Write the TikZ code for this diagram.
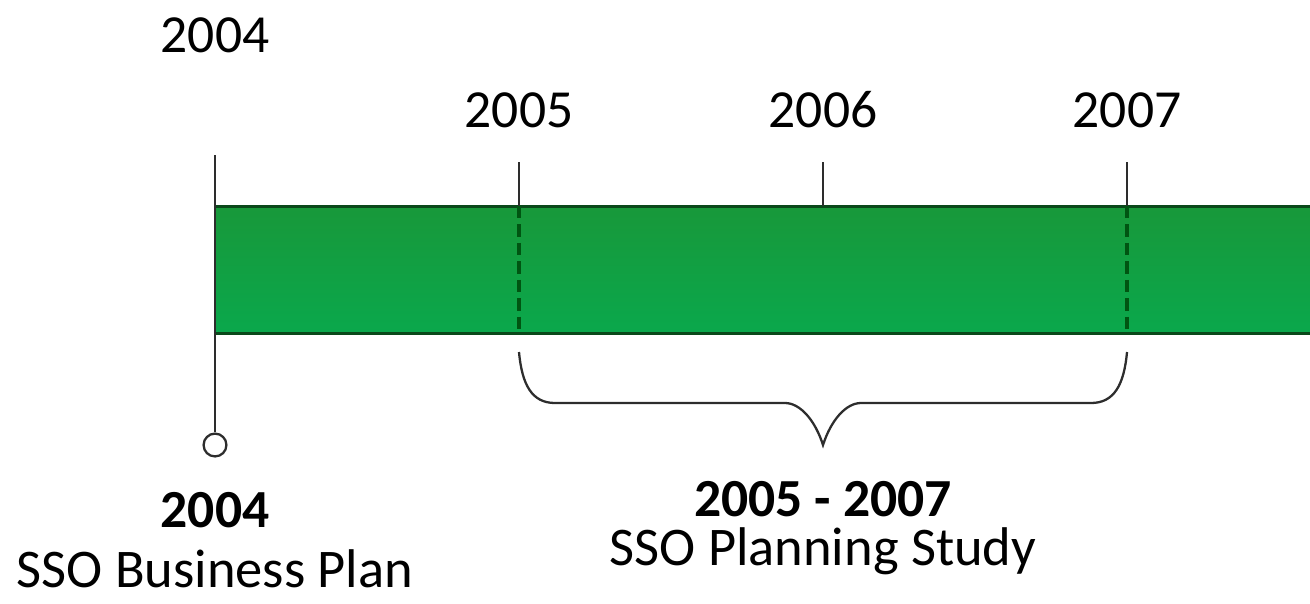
\documentclass[tikz,border=0pt]{standalone}
\usepackage{fontspec}
\setmainfont{Carlito}
\definecolor{bargreenA}{RGB}{24,152,58}
\definecolor{bargreenB}{RGB}{10,168,76}
\definecolor{barline}{RGB}{10,72,26}
\definecolor{dashgreen}{RGB}{0,85,18}
\definecolor{tickgray}{RGB}{45,45,45}
\tikzset{
  year/.style={inner sep=0pt,font=\fontsize{30.5}{36}\selectfont},
  yearbold/.style={inner sep=0pt,font=\fontsize{30.5}{36}\selectfont\bfseries},
  caption/.style={inner sep=0pt,font=\fontsize{31}{36}\selectfont},
  tick/.style={draw=tickgray,line width=1.3pt},
  phase/.style={draw=dashgreen,line width=2.2pt,dash pattern=on 7pt off 3.5pt},
}
\begin{document}
\begin{tikzpicture}[x=0.02cm,y=-0.02cm]
  \useasboundingbox (0,0) rectangle (1310,603);
  % bar
  \shade[top color=bargreenA,bottom color=bargreenB] (215,206) rectangle (1310,333);
  \draw[barline,line width=1.7pt] (215,206) -- (1310,206) (215,333) -- (1310,333);
  % years
  \node[year] (y2004) at (215,35) {2004};
  \node[year] (y2005) at (519,110) {2005};
  \node[year] (y2006) at (823,110) {2006};
  \node[year] (y2007) at (1127,110) {2007};
  \coordinate (t2004) at (215,155);
  \coordinate (t2005) at (519,162);
  \coordinate (t2006) at (823,162);
  \coordinate (t2007) at (1127,162);
  \coordinate (b2005) at (519,206);
  \coordinate (b2006) at (823,206);
  \coordinate (b2007) at (1127,206);
  \coordinate (e2005) at (519,333);
  \coordinate (e2007) at (1127,333);
  \draw[tick] (t2005) -- (b2005);
  \draw[tick] (t2006) -- (b2006);
  \draw[tick] (t2007) -- (b2007);
  \draw[phase] (b2005) -- (e2005);
  \draw[phase] (b2007) -- (e2007);
  % milestone 2004
  \node[circle,draw=tickgray,fill=white,line width=1.3pt,inner sep=0pt,minimum size=13pt] (dot) at (215,445) {};
  \draw[tick] (t2004) -- (dot);
  \node[yearbold] (m2004) at (215,510) {2004};
  \node[caption] (plan) at (215,569) {SSO Business Plan};
  % brace
  \draw[tickgray,line width=1.3pt] (519,352) .. controls (522,385) and (532,403) .. (555,403) -- (785,403)
    .. controls (800,403) and (815,420) .. (823,445)
    .. controls (831,420) and (846,403) .. (861,403) -- (1091,403)
    .. controls (1114,403) and (1124,385) .. (1127,352);
  \node[yearbold] (span) at (823,499) {2005 - 2007};
  \node[caption] (study) at (823,551) {SSO Planning Study};
\end{tikzpicture}
\end{document}
